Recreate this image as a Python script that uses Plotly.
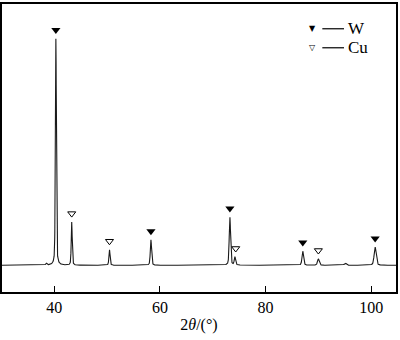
import numpy as np
import plotly.graph_objects as go

# Peak list (2theta in degrees, intensity in a.u.)
peak_pos = [38.5, 40.3, 43.3, 50.45, 58.3, 73.25, 74.2, 87.05, 90.0, 95.1, 100.75]
peak_int = [8, 1000, 190, 68, 112, 212, 36, 62, 27, 9, 80]
peak_fwhm = [0.3, 0.22, 0.22, 0.25, 0.28, 0.3, 0.3, 0.35, 0.4, 0.5, 0.45]

# Phase markers
w_pos = [40.3, 58.3, 73.25, 87.05, 100.75]
w_int = [1000, 112, 212, 62, 80]
cu_pos = [43.3, 50.45, 74.35, 90.0]
cu_int = [190, 68, 36, 27]

x_ticks = [40, 60, 80, 100]
legend_labels = ["W", "Cu"]

two_theta = np.arange(30.0, 105.0, 0.02)
intensity = np.zeros_like(two_theta)
for p, h, w in zip(peak_pos, peak_int, peak_fwhm):
    g = np.exp(-4 * np.log(2) * ((two_theta - p) / w) ** 2)
    l = 1.0 / (1.0 + 4 * ((two_theta - p) / w) ** 2)
    intensity += h * (0.6 * g + 0.4 * l)

offset = 38
fig = go.Figure()
fig.add_trace(go.Scatter(x=two_theta, y=intensity, mode="lines",
                         line=dict(color="#1a1a1a", width=1.1), hoverinfo="skip"))
fig.add_trace(go.Scatter(x=w_pos, y=[v + offset for v in w_int], mode="markers",
                         marker=dict(symbol="triangle-down", size=8, color="black",
                                     line=dict(width=0))))
fig.add_trace(go.Scatter(x=cu_pos, y=[v + offset for v in cu_int], mode="markers",
                         marker=dict(symbol="triangle-down-open", size=7, color="black",
                                     line=dict(width=1))))

serif = "Liberation Serif, Times New Roman, serif"
# Legend (drawn manually)
leg_y = [0.914, 0.848]
leg_sym = ["▼", "▽"]
for yy, sym, lab in zip(leg_y, leg_sym, legend_labels):
    fig.add_annotation(xref="paper", yref="paper", x=0.787, y=yy, xanchor="center", yanchor="middle",
                       text=sym, showarrow=False, font=dict(family="DejaVu Sans", size=8, color="black"))
    fig.add_shape(type="line", xref="paper", yref="paper", x0=0.813, x1=0.868, y0=yy, y1=yy,
                  line=dict(color="black", width=1.2))
    fig.add_annotation(xref="paper", yref="paper", x=0.874, y=yy, xanchor="left", yanchor="middle",
                       text=lab, showarrow=False, font=dict(family=serif, size=17, color="black"))

fig.update_layout(
    width=400, height=340,
    margin=dict(l=2, r=3, t=2, b=48),
    paper_bgcolor="white", plot_bgcolor="white",
    showlegend=False,
    font=dict(family=serif, size=16, color="black"),
    xaxis=dict(range=[30.1, 104.7], tickvals=x_ticks, ticks="inside", ticklen=6,
               tickwidth=1, tickcolor="black", showline=True, linecolor="black",
               linewidth=1.5, mirror=True, showgrid=False, zeroline=False,
               tickfont=dict(family=serif, size=16),
               title=dict(text="2<i>θ</i>/(°)", font=dict(family=serif, size=16), standoff=4)),
    yaxis=dict(range=[-118, 1153], showticklabels=False, ticks="", showline=True,
               linecolor="black", linewidth=1.5, mirror=True, showgrid=False, zeroline=False),
)

fig.write_html("out.html", config={"displayModeBar": False},
               post_script="document.body.style.margin='0';document.body.style.overflow='hidden';")
